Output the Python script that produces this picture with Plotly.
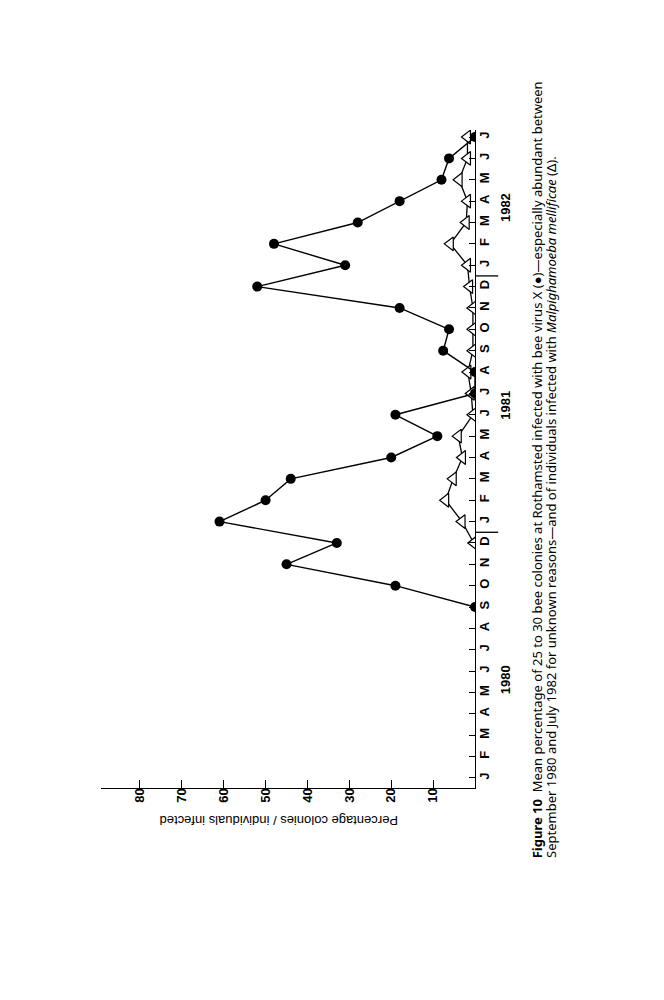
import plotly.graph_objects as go

# month initials for the time axis (Jan 1980 .. Jul 1982)
month_letters = ['J', 'F', 'M', 'A', 'M', 'J', 'J', 'A', 'S', 'O', 'N', 'D']
tick_text = month_letters * 2 + month_letters[:7]
value_ticks = [10, 20, 30, 40, 50, 60, 70, 80]
years = ['1980', '1981', '1982']

# bee virus X (filled dots)
bvx_dates = ['1980-09', '1980-10', '1980-11', '1980-12',
             '1981-01', '1981-02', '1981-03', '1981-04', '1981-05', '1981-06',
             '1981-07', '1981-08', '1981-09', '1981-10', '1981-11', '1981-12',
             '1982-01', '1982-02', '1982-03', '1982-04', '1982-05', '1982-06',
             '1982-07']
bvx_pct = [0, 19, 45, 33, 61, 50, 44, 20, 9, 19, 0, 0, 7.6, 6.2, 18, 52,
           31, 48, 28, 18, 8, 6.2, 0]

# Malpighamoeba mellificae (open triangles)
mm_dates = ['1980-12',
            '1981-01', '1981-02', '1981-03', '1981-04', '1981-05', '1981-06',
            '1981-07', '1981-08', '1981-09', '1981-10', '1981-11', '1981-12',
            '1982-01', '1982-02', '1982-03', '1982-04', '1982-05', '1982-06',
            '1982-07']
mm_pct = [0.3, 3.1, 7, 5.2, 3, 4, 0.5, 0.9, 1.7, 0.5, 0.5, 0.5, 1.3,
          1.8, 5.9, 2.1, 1.8, 3.8, 1.8, 1.8]


def month_index(s):
    y, m = s.split('-')
    return (int(y) - 1980) * 12 + int(m) - 1


fig = go.Figure()

# the whole page is turned a quarter turn: time runs upward, values leftward
fig.add_trace(go.Scatter(
    x=mm_pct, y=[month_index(d) for d in mm_dates],
    mode='lines+markers',
    line=dict(color='black', width=1.3),
    marker=dict(symbol='triangle-left', size=12, color='white',
                line=dict(color='black', width=1.2)),
))
fig.add_trace(go.Scatter(
    x=bvx_pct, y=[month_index(d) for d in bvx_dates],
    mode='lines+markers',
    line=dict(color='black', width=1.4),
    marker=dict(symbol='circle', size=10, color='black'),
))

tick_font = dict(family='Liberation Sans, Arial, sans-serif', size=13,
                 color='black', weight='bold')

fig.update_layout(
    width=664, height=1000,
    margin=dict(l=93, r=197, t=122, b=220),
    paper_bgcolor='white', plot_bgcolor='white',
    showlegend=False,
    xaxis=dict(
        range=[89.3, 0],
        tickvals=value_ticks,
        tickangle=-90,
        ticks='inside', ticklen=8, tickwidth=1.2, tickcolor='black',
        showline=True, linecolor='black', linewidth=1.3,
        showgrid=False, zeroline=False,
        ticklabelstandoff=-6,
        tickfont=tick_font,
    ),
    yaxis=dict(
        range=[-0.47, 30.33],
        side='right',
        tickvals=list(range(len(tick_text))),
        ticktext=tick_text,
        tickangle=-90,
        ticks='inside', ticklen=6, tickwidth=1.2, tickcolor='black',
        showline=True, linecolor='black', linewidth=1.3,
        showgrid=False, zeroline=False,
        ticklabelstandoff=-3,
        tickfont=tick_font,
    ),
)

# year separators across the time axis
for yb in [11.5, 23.5]:
    fig.add_shape(type='line', xref='paper', yref='y',
                  x0=1, x1=1.062, y0=yb, y1=yb,
                  line=dict(color='black', width=1.3))

for yr, ypos in zip(years, [4.6, 17.45, 26.7]):
    fig.add_annotation(text=yr, xref='paper', yref='y', x=1.107, y=ypos,
                       textangle=-90, showarrow=False,
                       font=tick_font)

fig.add_annotation(text='Percentage colonies / individuals infected',
                   xref='paper', yref='paper', x=0.476, y=-0.0638,
                   textangle=180, showarrow=False,
                   font=dict(family='Liberation Sans, Arial, sans-serif',
                             size=13, color='black'))

cap_font = dict(family='Noto Sans, sans-serif', size=13, color='black')
fig.add_annotation(
    text='<b>Figure 10</b>  Mean percentage of 25 to 30 bee colonies at Rothamsted '
         'infected with bee virus X (●)—especially abundant between',
    xref='paper', yref='paper', x=1.168, y=-0.1094,
    xanchor='center', yanchor='bottom',
    textangle=-90, showarrow=False, font=cap_font)
fig.add_annotation(
    text='September 1980 and July 1982 for unknown reasons—and of individuals '
         'infected with <i>Malpighamoeba mellificae</i> (Δ).',
    xref='paper', yref='paper', x=1.203, y=-0.1094,
    xanchor='center', yanchor='bottom',
    textangle=-90, showarrow=False, font=cap_font)

fig.write_html('out.html')
